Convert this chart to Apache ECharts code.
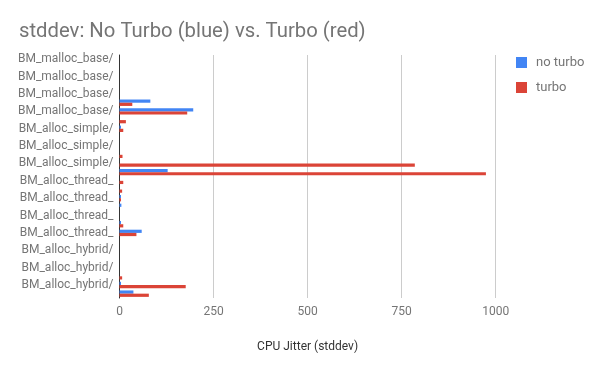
<!DOCTYPE html>
<html>
<head>
<meta charset="utf-8">
<script src="https://cdn.jsdelivr.net/npm/echarts@6/dist/echarts.min.js"></script>
<style>html,body{margin:0;padding:0;background:#fff}#c{width:600px;height:371px}</style>
</head>
<body>
<div id="c"></div>
<script>
var categories = [
  "BM_malloc_base/", "BM_malloc_base/", "BM_malloc_base/", "BM_malloc_base/",
  "BM_malloc_base/", "BM_malloc_base/", "BM_malloc_base/", "BM_malloc_base/",
  "BM_alloc_simple/", "BM_alloc_simple/", "BM_alloc_simple/", "BM_alloc_simple/",
  "BM_alloc_simple/", "BM_alloc_simple/",
  "BM_alloc_thread_", "BM_alloc_thread_", "BM_alloc_thread_", "BM_alloc_thread_",
  "BM_alloc_thread_", "BM_alloc_thread_", "BM_alloc_thread_", "BM_alloc_thread_",
  "BM_alloc_hybrid/", "BM_alloc_hybrid/", "BM_alloc_hybrid/", "BM_alloc_hybrid/",
  "BM_alloc_hybrid/", "BM_alloc_hybrid/"
];
var noTurbo = [0, 0, 0, 0, 0, 82, 196, 0, 4, 0, 0, 0, 0, 128, 0, 0, 4, 5, 0, 4, 59, 0, 0, 0, 0, 0, 4, 37];
var turbo   = [0, 0, 0, 0, 0, 34, 180, 17, 10, 0, 0, 8, 785, 974, 10, 7, 4, 0, 0, 10, 45, 0, 0, 0, 0, 7, 176, 78];
var xTicks = [0, 250, 500, 750, 1000];

var chart = echarts.init(document.getElementById('c'), null, {renderer: 'canvas'});
chart.setOption({
  animation: false,
  textStyle: {fontFamily: 'Roboto'},
  title: {
    text: 'stddev: No Turbo (blue) vs. Turbo (red)',
    left: 19, top: 22, padding: 0,
    textStyle: {fontFamily: 'Roboto', fontSize: 20.3, fontWeight: 'normal', color: '#757575'}
  },
  legend: {
    orient: 'vertical', left: 516, top: 56, padding: 0,
    itemWidth: 11, itemHeight: 11, itemGap: 12,
    icon: 'rect',
    textStyle: {fontFamily: 'Roboto', fontSize: 13, color: '#757575', padding: [0, 0, 0, 4]},
    data: ['no turbo', 'turbo']
  },
  grid: {left: 119.5, right: 104.3, top: 55, bottom: 73, containLabel: false},
  xAxis: {
    type: 'value', min: xTicks[0], max: xTicks[xTicks.length - 1], interval: 250,
    name: 'CPU Jitter (stddev)', nameLocation: 'middle', nameGap: 43,
    nameTextStyle: {fontFamily: 'Roboto', fontSize: 12, color: '#333'},
    axisLine: {show: false},
    axisTick: {show: false},
    axisLabel: {fontFamily: 'Roboto', fontSize: 12, color: '#757575', margin: 8,
      formatter: function (v) { return String(v); }},
    splitLine: {show: true, lineStyle: {color: '#cccccc', width: 1}}
  },
  yAxis: {
    type: 'category', inverse: true, data: categories,
    axisLine: {show: true, lineStyle: {color: '#333', width: 1}},
    axisTick: {show: false},
    axisLabel: {interval: 1, fontFamily: 'Roboto', fontSize: 12, color: '#757575', margin: 6,
      padding: [2, 0, 0, 0]}
  },
  series: [
    {name: 'no turbo', type: 'bar', data: noTurbo, itemStyle: {color: '#4285F4'},
     barGap: '0%', barCategoryGap: '26%'},
    {name: 'turbo', type: 'bar', data: turbo, itemStyle: {color: '#DB4437'},
     barGap: '0%', barCategoryGap: '26%'}
  ]
});
</script>
</body>
</html>
